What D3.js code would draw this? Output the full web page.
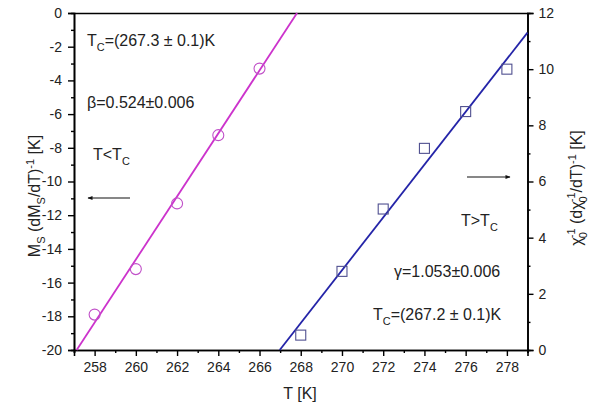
<!DOCTYPE html>
<html><head><meta charset="utf-8">
<script src="https://cdn.jsdelivr.net/npm/d3@7"></script>
<style>
body{margin:0;background:#fff;}
text{font-family:Arial,"Liberation Sans",sans-serif;}
</style></head><body>
<svg id="c" width="600" height="410"></svg>
<script>
// Data
const tLow = [258, 260, 262, 264, 266];
const msInv = [-17.9, -15.2, -11.3, -7.25, -3.3];
const tHigh = [268, 270, 272, 274, 276, 278];
const chiInv = [0.53, 2.8, 5.02, 7.18, 8.49, 10.0];
const fitLowT = [257.13, 267.82];
const fitLowY = [-20, 0];
const fitHighT = [266.98, 279];
const fitHighY = [0, 11.3];
const xMajor = [258, 260, 262, 264, 266, 268, 270, 272, 274, 276, 278];
const yLeftMajor = [0, -2, -4, -6, -8, -10, -12, -14, -16, -18, -20];
const yRightMajor = [0, 2, 4, 6, 8, 10, 12];

const svg = d3.select("#c");
const L = 74, R = 527.5, T = 13, B = 350;
const x = d3.scaleLinear().domain([257, 279]).range([L, R]);
const yL = d3.scaleLinear().domain([-20, 0]).range([B, T]);
const yR = d3.scaleLinear().domain([0, 12]).range([B, T]);

const xMinor = d3.range(257, 280, 1).filter(v => v % 2 !== 0);
const yLMinor = d3.range(-19, 0, 2);
const yRMinor = d3.range(1, 12, 2);

function styleAxis(g) {
  g.selectAll("path.domain").attr("stroke", "#000").attr("stroke-width", 1.6);
  g.selectAll(".tick line").attr("stroke", "#000").attr("stroke-width", 1.4);
  g.selectAll(".tick text").attr("font-size", 14).attr("fill", "#222")
    .style("font-family", "Arial, 'Liberation Sans', sans-serif");
}

// bottom axis
const gx = svg.append("g").attr("transform", `translate(0,${B})`)
  .call(d3.axisBottom(x).tickValues(xMajor).tickSize(6).tickPadding(6).tickFormat(d3.format("d")));
styleAxis(gx);
const gxm = svg.append("g").attr("transform", `translate(0,${B})`)
  .call(d3.axisBottom(x).tickValues(xMinor).tickSize(3).tickFormat(""));
styleAxis(gxm);
// top border
const gt = svg.append("g").attr("transform", `translate(0,${T})`)
  .call(d3.axisTop(x).tickValues([]).tickSizeOuter(0));
styleAxis(gt);
// left axis
const gl = svg.append("g").attr("transform", `translate(${L},0)`)
  .call(d3.axisLeft(yL).tickValues(yLeftMajor).tickSize(6).tickPadding(6).tickFormat(d => d3.format("d")(d).replace("−", "-")));
styleAxis(gl);
const glm = svg.append("g").attr("transform", `translate(${L},0)`)
  .call(d3.axisLeft(yL).tickValues(yLMinor).tickSize(3).tickFormat(""));
styleAxis(glm);
// right axis
const gr = svg.append("g").attr("transform", `translate(${R},0)`)
  .call(d3.axisRight(yR).tickValues(yRightMajor).tickSize(6).tickPadding(5).tickFormat(d3.format("d")));
styleAxis(gr);
const grm = svg.append("g").attr("transform", `translate(${R},0)`)
  .call(d3.axisRight(yR).tickValues(yRMinor).tickSize(3).tickFormat(""));
styleAxis(grm);

// fit lines
const magenta = "#cc33cc", blue = "#2424a8";
svg.append("path")
  .datum(fitLowT.map((t, i) => [t, fitLowY[i]]))
  .attr("d", d3.line().x(d => x(d[0])).y(d => yL(d[1])))
  .attr("stroke", magenta).attr("stroke-width", 1.8).attr("fill", "none");
svg.append("path")
  .datum(fitHighT.map((t, i) => [t, fitHighY[i]]))
  .attr("d", d3.line().x(d => x(d[0])).y(d => yR(d[1])))
  .attr("stroke", blue).attr("stroke-width", 1.8).attr("fill", "none");

// markers
svg.append("g").selectAll("circle").data(tLow.map((t, i) => [t, msInv[i]])).join("circle")
  .attr("cx", d => x(d[0])).attr("cy", d => yL(d[1])).attr("r", 5.5)
  .attr("fill", "none").attr("stroke", "#c050c8").attr("stroke-width", 1.1);
svg.append("g").selectAll("rect").data(tHigh.map((t, i) => [t, chiInv[i]])).join("rect")
  .attr("x", d => x(d[0]) - 5).attr("y", d => yR(d[1]) - 5).attr("width", 10).attr("height", 10)
  .attr("fill", "none").attr("stroke", "#505090").attr("stroke-width", 1.1);

// annotations
function rich(xp, yp, parts, size) {
  const t = svg.append("text").attr("x", xp).attr("y", yp).attr("font-size", size).attr("fill", "#222");
  parts.forEach(p => {
    const s = t.append("tspan").text(p.t);
    if (p.sub) s.attr("font-size", size * 0.68).attr("dy", size * 0.3);
    else if (p.sup) s.attr("font-size", size * 0.68).attr("dy", -size * 0.4);
    if (p.back) s.attr("dy", p.back);
  });
  return t;
}
rich(87, 46, [{t: "T"}, {t: "C", sub: true}, {t: "=(267.3 ± 0.1)K", back: -16 * 0.3}], 16);
rich(87, 108, [{t: "β=0.524±0.006"}], 16);
rich(93, 160, [{t: "T<T"}, {t: "C", sub: true}], 16);
rich(461, 226, [{t: "T>T"}, {t: "C", sub: true}], 16);
rich(394, 277, [{t: "γ=1.053±0.006"}], 16);
rich(373, 320, [{t: "T"}, {t: "C", sub: true}, {t: "=(267.2 ± 0.1)K", back: -16 * 0.3}], 16);

// arrows
const defs = svg.append("defs");
defs.append("marker").attr("id", "ah").attr("viewBox", "0 0 10 10").attr("refX", 9).attr("refY", 5)
  .attr("markerWidth", 8).attr("markerHeight", 5).attr("orient", "auto").attr("markerUnits", "userSpaceOnUse")
  .append("path").attr("d", "M0,1 L10,5 L0,9 Z").attr("fill", "#111");
svg.append("line").attr("x1", 130).attr("y1", 198).attr("x2", 88).attr("y2", 198)
  .attr("stroke", "#111").attr("stroke-width", 1.2).attr("marker-end", "url(#ah)");
svg.append("line").attr("x1", 467).attr("y1", 177).attr("x2", 510).attr("y2", 177)
  .attr("stroke", "#111").attr("stroke-width", 1.2).attr("marker-end", "url(#ah)");

// axis titles
svg.append("text").attr("x", 300).attr("y", 399).attr("text-anchor", "middle").attr("font-size", 16).attr("fill", "#222").text("T [K]");

const lt = svg.append("text").attr("transform", "translate(40,196) rotate(-90)").attr("text-anchor", "middle")
  .attr("font-size", 16).attr("fill", "#222");
lt.append("tspan").text("M");
lt.append("tspan").text("S").attr("font-size", 11).attr("dy", 5);
lt.append("tspan").text(" (dM").attr("dy", -5);
lt.append("tspan").text("S").attr("font-size", 11).attr("dy", 5);
lt.append("tspan").text("/dT)").attr("dy", -5);
lt.append("tspan").text("-1").attr("font-size", 11).attr("dy", -6);
lt.append("tspan").text(" [K]").attr("dy", 6);

const rt = svg.append("text").attr("transform", "translate(582,188) rotate(-90)").attr("text-anchor", "middle")
  .attr("font-size", 16).attr("fill", "#222");
rt.append("tspan").text("χ");
rt.append("tspan").text("0").attr("font-size", 11).attr("dy", 5).attr("dx", -1);
rt.append("tspan").text("-1").attr("font-size", 11).attr("dy", -12).attr("dx", -6);
rt.append("tspan").text(" (dχ").attr("dy", 7);
rt.append("tspan").text("0").attr("font-size", 11).attr("dy", 5).attr("dx", -1);
rt.append("tspan").text("-1").attr("font-size", 11).attr("dy", -12).attr("dx", -6);
rt.append("tspan").text("/dT)").attr("dy", 7);
rt.append("tspan").text("-1").attr("font-size", 11).attr("dy", -6);
rt.append("tspan").text(" [K]").attr("dy", 6);
</script>
</body></html>
